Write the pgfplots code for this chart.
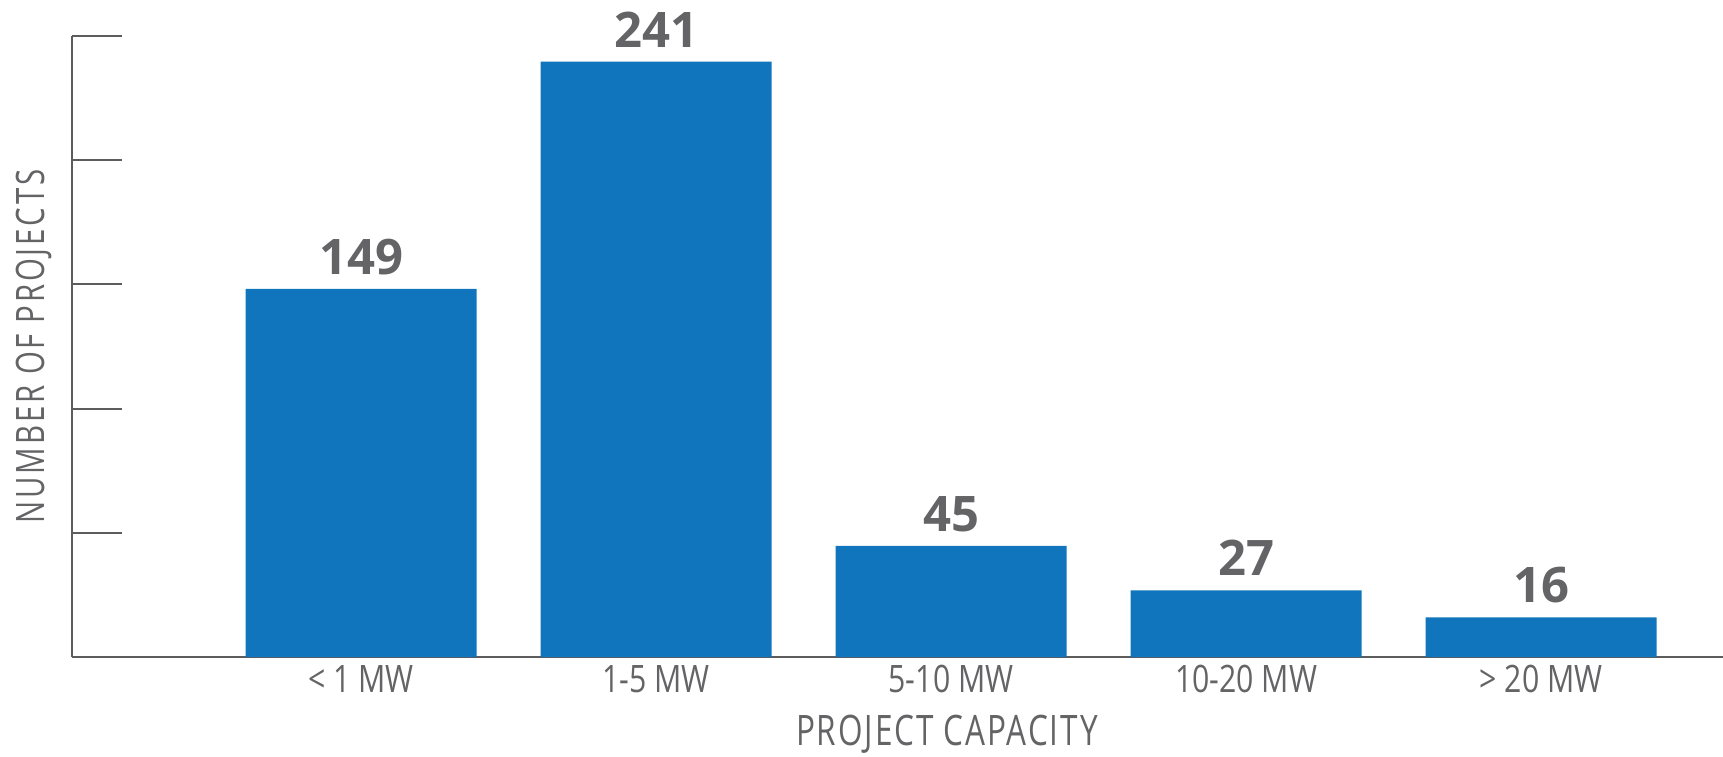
\documentclass[border=0pt]{standalone}
\usepackage{fontspec}
\usepackage{pgfplots}
\pgfplotsset{compat=1.18}
\setmainfont{Open Sans}
\newfontfamily\labelfont[FakeStretch=0.80]{Open Sans}
\newfontfamily\ylabfont[FakeStretch=0.75,LetterSpace=7.3]{Open Sans}
\newfontfamily\xlabfont[FakeStretch=0.75,LetterSpace=4.6]{Open Sans}
\definecolor{barblue}{RGB}{16,117,188}
\definecolor{txtgray}{RGB}{100,100,102}
\definecolor{axgray}{RGB}{92,92,92}
\begin{document}
\begin{tikzpicture}
\useasboundingbox (0,0) rectangle (861.5pt,378pt);
\begin{axis}[
  at={(36pt,49.5pt)}, anchor=south west,
  scale only axis, width=825.5pt, height=310.5pt,
  xmin=-0.98, xmax=4.617, ymin=0, ymax=251.4,
  clip=false,
  axis lines*=left,
  axis line style={draw=axgray, line width=1pt},
  tick align=inside, major tick length=25pt,
  ytick={0,50.28,100.56,150.84,201.12,251.4}, yticklabels={},
  ytick style={draw=axgray, line width=1pt},
  xtick={0,1,2,3,4},
  xticklabels={{< 1 MW},{1-5 MW},{5-10 MW},{10-20 MW},{> 20 MW}},
  xtick style={draw=none},
  xticklabel style={font=\labelfont\fontsize{18.9pt}{20pt}\selectfont, text=txtgray, anchor=north, inner sep=0pt, yshift=21pt},
  ylabel={NUMBER OF PROJECTS},
  ylabel style={font=\ylabfont\fontsize{19.6pt}{21pt}\selectfont, text=txtgray, at={(axis description cs:-0.01635,0.5)}, anchor=base, inner sep=0pt},
  xlabel={PROJECT CAPACITY},
  xlabel style={font=\xlabfont\fontsize{21pt}{22pt}\selectfont, text=txtgray, at={(axis description cs:0.5299,-0.1433)}, anchor=base, inner sep=0pt},
  /pgf/number format/assume math mode=true,
  ybar, bar width=0.783,
  nodes near coords,
  every node near coord/.append style={font=\bfseries\fontsize{24.5pt}{26pt}\selectfont, text=txtgray, anchor=base, inner sep=0pt, yshift=7.25pt},
]
\addplot[fill=barblue, draw=none] coordinates {(0,149) (1,241) (2,45) (3,27) (4,16)};
\end{axis}
\end{tikzpicture}
\end{document}
